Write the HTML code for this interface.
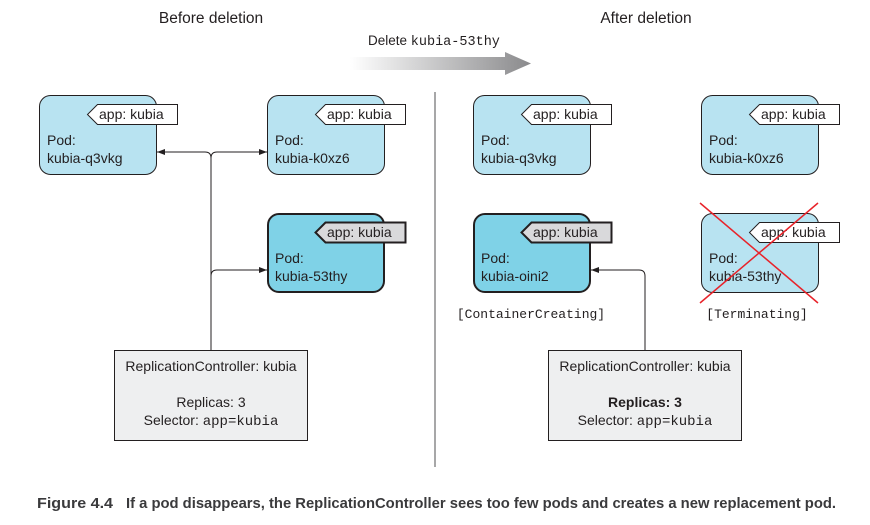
<!DOCTYPE html>
<html><head><meta charset="utf-8"><style>
html,body{margin:0;padding:0;background:#fff;}
svg{display:block;}
text{font-family:"Liberation Sans",sans-serif;font-size:14px;fill:#231f20;}
.m{font-family:"Liberation Mono",monospace;}
</style></head><body>
<svg width="870" height="525" viewBox="0 0 870 525" xmlns="http://www.w3.org/2000/svg">
<defs>
<linearGradient id="g" x1="0" x2="1" y1="0" y2="0">
<stop offset="0" stop-color="#fff"/><stop offset="1" stop-color="#8a8a8c"/>
</linearGradient>
<marker id="a" markerWidth="8" markerHeight="6" refX="8" refY="3" orient="auto" markerUnits="userSpaceOnUse">
<path d="M0,0 L8,3 L0,6 z" fill="#231f20"/>
</marker>
</defs>
<text x="211" y="23" text-anchor="middle" style="font-size:15.5px">Before deletion</text>
<text x="646" y="23" text-anchor="middle" style="font-size:15.5px">After deletion</text>
<text x="368" y="45" style="font-size:13.5px">Delete <tspan class="m">kubia-53thy</tspan></text>
<path d="M350,57 H505 V52 L531,63.5 L505,75 V70 H350 z" fill="url(#g)"/>
<line x1="435" y1="92" x2="435" y2="467" stroke="#8a8a8c" stroke-width="1.5"/>

<path d="M211,350 V158 Q211,152 205,152 H157" fill="none" stroke="#231f20" stroke-width="1" marker-end="url(#a)"/>
<path d="M211,158 Q211,152 217,152 H267" fill="none" stroke="#231f20" stroke-width="1" marker-end="url(#a)"/>
<path d="M211,276 Q211,270 217,270 H267" fill="none" stroke="#231f20" stroke-width="1" marker-end="url(#a)"/>
<path d="M645,350 V276 Q645,270 639,270 H591" fill="none" stroke="#231f20" stroke-width="1" marker-end="url(#a)"/>

<g stroke="#231f20">
<rect x="39.5" y="95.5" width="117" height="79" rx="11" fill="#b8e3f1" stroke-width="1"/>
<rect x="267.5" y="95.5" width="117" height="79" rx="11" fill="#b8e3f1" stroke-width="1"/>
<rect x="268" y="214" width="116" height="78" rx="11" fill="#7fd2e7" stroke-width="2"/>
<rect x="473.5" y="95.5" width="117" height="79" rx="11" fill="#b8e3f1" stroke-width="1"/>
<rect x="701.5" y="95.5" width="117" height="79" rx="11" fill="#b8e3f1" stroke-width="1"/>
<rect x="474" y="214" width="116" height="78" rx="11" fill="#7fd2e7" stroke-width="2"/>
<rect x="701.5" y="213.5" width="117" height="79" rx="11" fill="#b8e3f1" stroke-width="1"/>
</g>
<g stroke="#231f20" stroke-width="1">
<path d="M97.5,104.5 H177.5 V124.5 H97.5 L87.5,114.5 z" fill="#fff"/>
<path d="M325.5,104.5 H405.5 V124.5 H325.5 L315.5,114.5 z" fill="#fff"/>
<path d="M325.5,222.5 H405.5 V242.5 H325.5 L315.5,232.5 z" fill="#d9d9db" stroke-width="2"/>
<path d="M531.5,104.5 H611.5 V124.5 H531.5 L521.5,114.5 z" fill="#fff"/>
<path d="M759.5,104.5 H839.5 V124.5 H759.5 L749.5,114.5 z" fill="#fff"/>
<path d="M531.5,222.5 H611.5 V242.5 H531.5 L521.5,232.5 z" fill="#d9d9db" stroke-width="2"/>
<path d="M759.5,222.5 H839.5 V242.5 H759.5 L749.5,232.5 z" fill="#fff"/>
</g>
<text x="99" y="119">app: kubia</text>
<text x="327" y="119">app: kubia</text>
<text x="327" y="237">app: kubia</text>
<text x="533" y="119">app: kubia</text>
<text x="761" y="119">app: kubia</text>
<text x="533" y="237">app: kubia</text>
<text x="761" y="237">app: kubia</text>

<text x="47" y="145">Pod:</text><text x="47" y="163">kubia-q3vkg</text>
<text x="275" y="145">Pod:</text><text x="275" y="163">kubia-k0xz6</text>
<text x="275" y="263">Pod:</text><text x="275" y="281">kubia-53thy</text>
<text x="481" y="145">Pod:</text><text x="481" y="163">kubia-q3vkg</text>
<text x="709" y="145">Pod:</text><text x="709" y="163">kubia-k0xz6</text>
<text x="481" y="263">Pod:</text><text x="481" y="281">kubia-oini2</text>
<text x="709" y="263">Pod:</text><text x="709" y="281">kubia-53thy</text>

<line x1="700" y1="203" x2="818" y2="303" stroke="#e8232a" stroke-width="1.5"/>
<line x1="818" y1="203" x2="700" y2="303" stroke="#e8232a" stroke-width="1.5"/>

<text x="531" y="318" text-anchor="middle" class="m" style="font-size:13px">[ContainerCreating]</text>
<text x="757" y="318" text-anchor="middle" class="m" style="font-size:13px">[Terminating]</text>

<rect x="114.5" y="350.5" width="193" height="90" fill="#eeeff0" stroke="#231f20"/>
<text x="211" y="371" text-anchor="middle">ReplicationController: kubia</text>
<text x="211" y="407" text-anchor="middle">Replicas: 3</text>
<text x="211" y="425" text-anchor="middle">Selector: <tspan class="m">app=kubia</tspan></text>
<rect x="548.5" y="350.5" width="193" height="90" fill="#eeeff0" stroke="#231f20"/>
<text x="645" y="371" text-anchor="middle">ReplicationController: kubia</text>
<text x="645" y="407" text-anchor="middle" style="font-weight:bold">Replicas: 3</text>
<text x="645" y="425" text-anchor="middle">Selector: <tspan class="m">app=kubia</tspan></text>

<text x="37" y="508" style="font-weight:bold;font-size:14.5px;fill:#3a3a3c" textLength="76" lengthAdjust="spacingAndGlyphs">Figure 4.4</text>
<text x="126" y="508" style="font-weight:bold;font-size:14.5px;fill:#3a3a3c" textLength="710" lengthAdjust="spacingAndGlyphs">If a pod disappears, the ReplicationController sees too few pods and creates a new replacement pod.</text>
</svg>
</body></html>
